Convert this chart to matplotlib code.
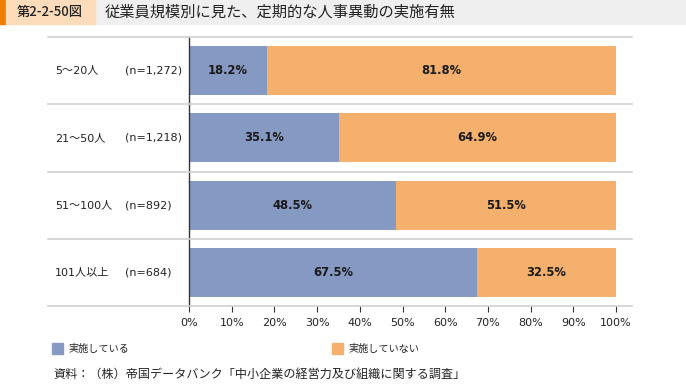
import matplotlib.pyplot as plt
from matplotlib.lines import Line2D
from matplotlib.patches import Rectangle

plt.rcParams['font.family'] = ['DejaVu Sans', 'Noto Sans CJK JP']
JP = ['Noto Sans CJK JP', 'DejaVu Sans']

groups = ['5～20人', '21～50人', '51～100人', '101人以上']
counts = ['(n=1,272)', '(n=1,218)', '(n=892)', '(n=684)']
done = [18.2, 35.1, 48.5, 67.5]
not_done = [81.8, 64.9, 51.5, 32.5]
series_names = ['実施している', '実施していない']
ticks = [0, 10, 20, 30, 40, 50, 60, 70, 80, 90, 100]

blue = '#8699c3'
orange = '#f4b06c'

W, H = 686, 386
fig = plt.figure(figsize=(W / 100, H / 100), dpi=100)


def fx(px):
    return px / W


def fy(py):
    return 1 - py / H


# header band
fig.add_artist(Rectangle((0, fy(24)), 1, 24 / H, color='#efefef', transform=fig.transFigure))
fig.add_artist(Rectangle((0, fy(24)), fx(6), 24 / H, color='#ef7d00', transform=fig.transFigure))
fig.add_artist(Rectangle((fx(6), fy(24)), fx(89), 24 / H, color='#fddcbb', transform=fig.transFigure))
fig.text(fx(50), fy(12), '第2-2-50図', fontsize=9.5, ha='center', va='center', color='#222222',
         family=JP, fontweight='medium')
fig.text(fx(105), fy(12), '従業員規模別に見た、定期的な人事異動の実施有無', fontsize=11,
         ha='left', va='center', color='#222222', family=JP)

top, bottom = 37, 306
ax = fig.add_axes([fx(189), fy(bottom), fx(616 - 189), (bottom - top) / H])
ax.set_xlim(0, 100)
ax.set_ylim(len(groups), 0)

ypos = [i + 0.5 for i in range(len(groups))]
ax.barh(ypos, done, height=0.73, color=blue, label=series_names[0])
ax.barh(ypos, not_done, left=done, height=0.73, color=orange, label=series_names[1])

for y, a, b in zip(ypos, done, not_done):
    ax.text(a / 2, y, f'{a:.1f}%', ha='center', va='center', fontsize=8.3,
            fontweight='bold', color='#1a1a1a')
    ax.text(a + b / 2, y, f'{b:.1f}%', ha='center', va='center', fontsize=8.3,
            fontweight='bold', color='#1a1a1a')

axw = 616 - 189
for y, g, n in zip(ypos, groups, counts):
    ax.text((55 - 189) / axw, y, g, transform=ax.get_yaxis_transform(),
            ha='left', va='center', fontsize=8, color='#222222')
    ax.text((125 - 189) / axw, y, n, transform=ax.get_yaxis_transform(),
            ha='left', va='center', fontsize=8, color='#222222')

# table row lines
for i in range(len(groups) + 1):
    py = top + i * (bottom - top) / len(groups)
    fig.add_artist(Line2D([fx(48), fx(632)], [fy(py), fy(py)], color='#cfcfcf', lw=1.2))

for s in ['top', 'right', 'bottom']:
    ax.spines[s].set_visible(False)
ax.spines['left'].set_color('#333333')
ax.spines['left'].set_linewidth(1)
ax.set_yticks([])
ax.set_xticks(ticks)
ax.set_xticklabels([f'{t}%' for t in ticks], fontsize=8, color='#222222')
ax.tick_params(axis='x', length=4, color='#333333', pad=5)

# legend
fig.add_artist(Rectangle((fx(52), fy(354)), fx(11), 11 / H, color=blue, transform=fig.transFigure))
fig.text(fx(68), fy(349), series_names[0], fontsize=7.3, ha='left', va='center', color='#222222',
         family=JP)
fig.add_artist(Rectangle((fx(332), fy(354)), fx(11), 11 / H, color=orange, transform=fig.transFigure))
fig.text(fx(348), fy(349), series_names[1], fontsize=7.3, ha='left', va='center', color='#222222',
         family=JP)

fig.text(fx(53), fy(374), '資料：（株）帝国データバンク「中小企業の経営力及び組織に関する調査」',
         fontsize=8.7, ha='left', va='center', color='#222222', family=JP)

fig.savefig('out.png', dpi=100)
